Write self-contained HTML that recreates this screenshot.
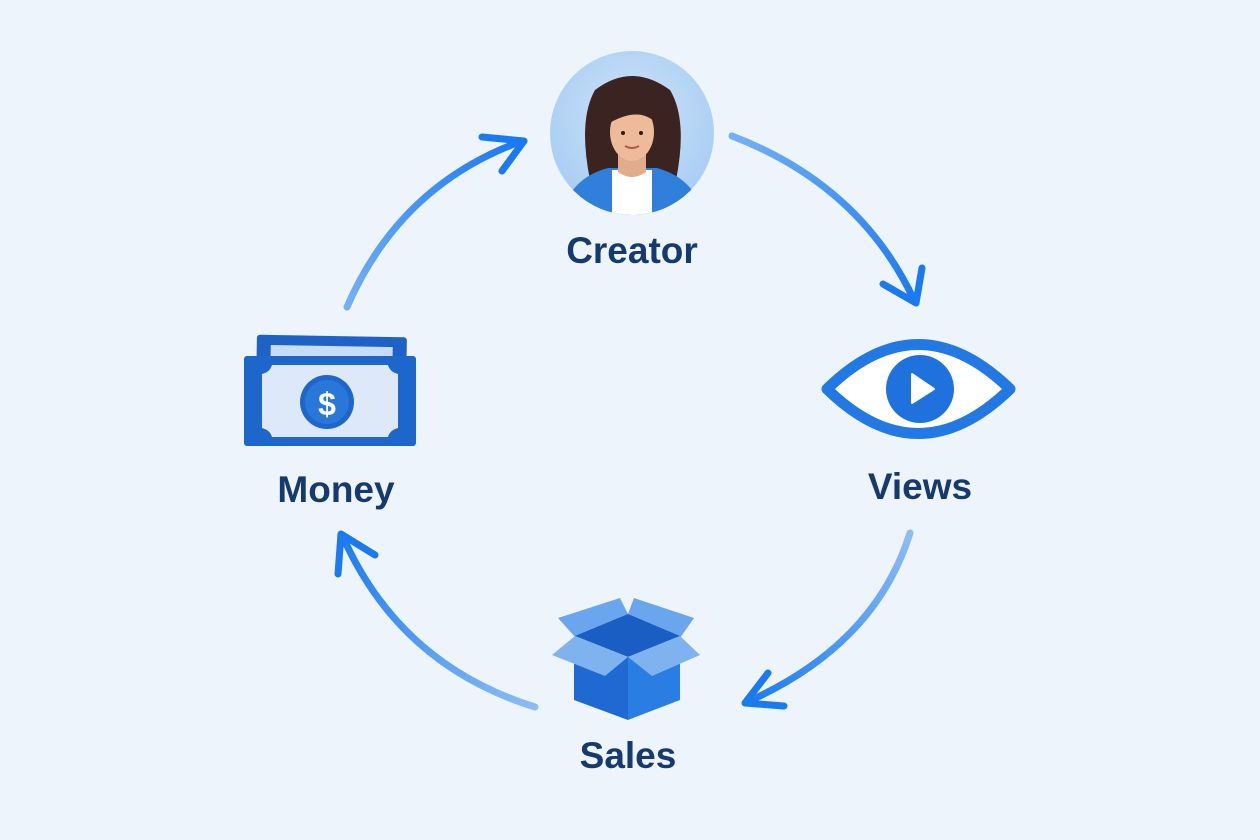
<!DOCTYPE html>
<html><head><meta charset="utf-8"><style>
html,body{margin:0;padding:0;background:#eef4fb;}
svg{display:block}
text{font-family:"Liberation Sans",sans-serif;font-weight:bold;fill:#163a6e;font-size:37px;text-anchor:middle}
</style></head><body>
<svg width="1260" height="840" viewBox="0 0 1260 840" xmlns="http://www.w3.org/2000/svg">
<defs>
<linearGradient id="a1" gradientUnits="userSpaceOnUse" x1="347" y1="307" x2="522" y2="141"><stop offset="0" stop-color="#74b0f5"/><stop offset="1" stop-color="#1a7af0"/></linearGradient>
<linearGradient id="a2" gradientUnits="userSpaceOnUse" x1="732" y1="136" x2="916" y2="303"><stop offset="0" stop-color="#74b0f5"/><stop offset="1" stop-color="#1a7af0"/></linearGradient>
<linearGradient id="a3" gradientUnits="userSpaceOnUse" x1="910" y1="533" x2="744" y2="703"><stop offset="0" stop-color="#8cbdf6"/><stop offset="1" stop-color="#1a7af0"/></linearGradient>
<linearGradient id="a4" gradientUnits="userSpaceOnUse" x1="535" y1="707" x2="341" y2="534"><stop offset="0" stop-color="#8cbdf6"/><stop offset="1" stop-color="#1a7af0"/></linearGradient>
<radialGradient id="bg1" cx="0.5" cy="0.4" r="0.6"><stop offset="0" stop-color="#cfe3f8"/><stop offset="1" stop-color="#a7cdf3"/></radialGradient>
<clipPath id="cc"><circle cx="632" cy="133" r="82"/></clipPath>
</defs>
<g fill="none" stroke-linecap="round" stroke-linejoin="round" stroke-width="7">
<path d="M347 307 Q400 185 522 141" stroke="url(#a1)"/>
<path d="M482 137 L524 141 L502 171" stroke="#1a7af0"/>
<path d="M732 136 Q860 185 914 300" stroke="url(#a2)"/>
<path d="M883 284 L916 303 L922 268" stroke="#1a7af0"/>
<path d="M910 533 Q875 645 747 702" stroke="url(#a3)"/>
<path d="M768 673 L745 703 L784 706" stroke="#1a7af0"/>
<path d="M535 707 Q400 665 343 537" stroke="url(#a4)"/>
<path d="M338 574 L341 534 L375 555" stroke="#1a7af0"/>
</g>
<circle cx="632" cy="133" r="82" fill="url(#bg1)"/>
<g clip-path="url(#cc)">
<path d="M590 180 Q578 120 595 90 Q632 62 670 90 Q688 120 676 180 L640 175 L620 175 Z" fill="#3a2320"/>
<path d="M562 215 Q570 178 608 168 L657 168 Q694 178 704 215 Z" fill="#2f7fdb"/>
<rect x="612" y="170" width="40" height="50" fill="#fff"/>
<path d="M618 150 L646 150 L646 172 Q632 182 618 172 Z" fill="#e2ac8c"/>
<ellipse cx="632" cy="132" rx="22" ry="29" fill="#edbb9a"/>
<path d="M606 125 Q610 92 636 94 Q656 100 658 125 Q640 104 606 125 Z" fill="#3a2320"/>
<circle cx="623" cy="133" r="2" fill="#2a1a18"/><circle cx="641" cy="133" r="2" fill="#2a1a18"/>
<path d="M625 146 Q632 150 639 146" stroke="#b35a4c" stroke-width="2" fill="none"/>
</g>
<text x="632" y="263">Creator</text>
<path d="M827 389 Q918 300 1010 389 Q918 478 827 389 Z" fill="#fff" stroke="#2279e4" stroke-width="11" stroke-linejoin="round"/>
<circle cx="920" cy="389" r="34" fill="#1f72de"/>
<path d="M912 374 L934 389 L912 403 Z" fill="#fff" stroke="#fff" stroke-width="2" stroke-linejoin="round"/>
<text x="920" y="499">Views</text>
<g transform="rotate(1 330 390)">
<rect x="256" y="336" width="150" height="98" rx="3" fill="#1f62c6"/>
<rect x="270" y="346" width="122" height="20" fill="#c9dcf6"/>
</g>
<rect x="244" y="356" width="172" height="90" rx="3" fill="#1d66cc"/>
<path d="M262 374 Q270 372 272 365 L388 365 Q390 372 398 374 L398 428 Q390 430 388 437 L272 437 Q270 430 262 428 Z" fill="#dde9f8"/>
<circle cx="327" cy="402" r="27" fill="#1f66cc"/>
<circle cx="327" cy="402" r="22" fill="#2a77da"/>
<text x="327" y="415" style="font-size:32px;fill:#fff">$</text>
<text x="336" y="502">Money</text>
<polygon points="558,618 620,598 628,614 576,638" fill="#6aa6ee"/>
<polygon points="634,598 694,618 680,638 628,614" fill="#6aa6ee"/>
<polygon points="575,636 628,614 680,636 628,657" fill="#1a5ec3"/>
<polygon points="574,660 628,657 628,720 574,700" fill="#1e69d2"/>
<polygon points="628,657 680,660 680,700 628,720" fill="#2a7ee3"/>
<polygon points="552,655 575,636 628,657 605,676" fill="#7fb3f0"/>
<polygon points="628,657 680,636 700,655 652,676" fill="#7fb3f0"/>
<text x="628" y="768">Sales</text>
</svg>
</body></html>
